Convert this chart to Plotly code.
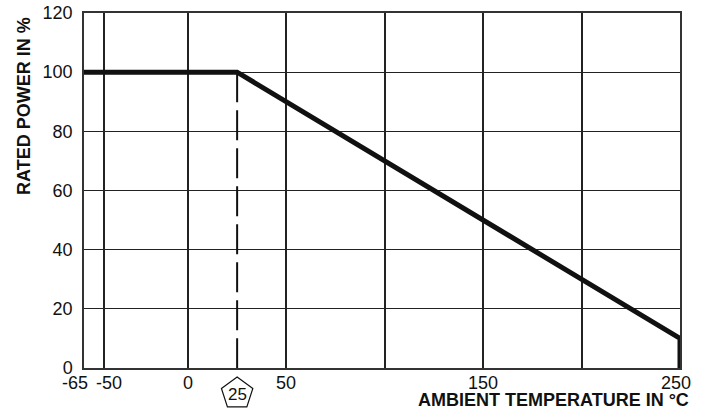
import numpy as np
import plotly.graph_objects as go

# ---- data ----
curve_temp = [-65, 25, 250, 250]
curve_power = [100, 100, 10, 0]
knee_temp = [25, 25]
knee_power = [100, 0]
x_grid_temps = [-65, -50, 0, 50, 100, 150, 200, 250]
x_label_temps = [-65, -50, 0, 50, 150, 250]
x_label_texts = ["-65", "-50", "0", "50", "150", "250"]
x_label_shift = [-9, 5, 0, 0, 0, -4]
y_ticks = [0, 20, 40, 60, 80, 100, 120]
knee_label = "25"

# Scale of the original drawing: left part of the temperature axis is compressed
SCALE_T = [-65, -50, 0, 250]
SCALE_P = [-52.8, -42.7, 0, 250]
X_RANGE = [float(np.interp(-65, SCALE_T, SCALE_P)), float(np.interp(250, SCALE_T, SCALE_P))]


def tx(v):
    return np.interp(v, SCALE_T, SCALE_P)


def paper_x(v):
    return float((tx(v) - X_RANGE[0]) / (X_RANGE[1] - X_RANGE[0]))


FONT = "Liberation Sans, Arial, Helvetica, sans-serif"
INK = "#111"
TICK_SIZE = 18

fig = go.Figure()

fig.add_trace(go.Scatter(
    x=tx(knee_temp), y=knee_power, mode="lines",
    line=dict(color=INK, width=2, dash="30px,8px"),
    hoverinfo="skip", showlegend=False))

fig.add_trace(go.Scatter(
    x=tx(curve_temp), y=curve_power, mode="lines",
    line=dict(color=INK, width=5),
    cliponaxis=False, showlegend=False))

annotations = []
for t, s, dx in zip(x_label_temps, x_label_texts, x_label_shift):
    annotations.append(dict(
        text=s, x=float(tx(t)), xref="x", y=0, yref="paper",
        xanchor="center", yanchor="top", yshift=-3, xshift=dx,
        showarrow=False, font=dict(family=FONT, size=TICK_SIZE, color=INK)))

# pentagon marker around the knee temperature
R, CY = 16.5, -25.5
angs = np.deg2rad([90, 18, -54, -126, 162])
pts = [(R * np.cos(a), CY + R * np.sin(a)) for a in angs]
path = "M " + " L ".join(f"{px:.2f},{py:.2f}" for px, py in pts) + " Z"
shapes = [dict(
    type="path", xref="paper", yref="paper", xsizemode="pixel", ysizemode="pixel",
    xanchor=paper_x(knee_temp[0]), yanchor=0, path=path,
    line=dict(color=INK, width=1.2), fillcolor="white", layer="above")]
annotations.append(dict(
    text=knee_label, x=float(tx(knee_temp[0])), xref="x", y=0, yref="paper",
    xanchor="center", yanchor="middle", yshift=CY - 1, showarrow=False,
    font=dict(family=FONT, size=17, color=INK)))

annotations.append(dict(
    text="<b>RATED POWER IN %</b>", textangle=-90,
    xref="paper", yref="paper", x=(24 - 84) / 596, y=(368 - 106) / 355,
    xanchor="center", yanchor="middle", showarrow=False,
    font=dict(family=FONT, size=18, color=INK)))
annotations.append(dict(
    text="<b>AMBIENT TEMPERATURE IN °C</b>",
    xref="paper", yref="paper", x=(691 - 84) / 596, y=(368 - 400) / 355,
    xanchor="right", yanchor="middle", showarrow=False,
    font=dict(family=FONT, size=18, color=INK)))

fig.update_layout(
    width=705, height=410,
    margin=dict(l=84, r=25, t=13, b=42, autoexpand=False),
    paper_bgcolor="white", plot_bgcolor="white",
    font=dict(family=FONT, size=TICK_SIZE, color=INK),
    xaxis=dict(
        range=X_RANGE,
        tickmode="array", tickvals=tx(x_grid_temps), showticklabels=False,
        showgrid=True, gridcolor="#222", gridwidth=2,
        showline=True, linecolor="#333", linewidth=1.5, mirror=True,
        zeroline=False, ticks="", automargin=False,
    ),
    yaxis=dict(
        range=[0, 120], tickmode="array", tickvals=y_ticks,
        showgrid=True, gridcolor="#222", gridwidth=1,
        showline=True, linecolor="#333", linewidth=1.5, mirror=True,
        zeroline=False, ticks="", tickfont=dict(size=TICK_SIZE),
        ticklabelstandoff=6, automargin=False,
    ),
    shapes=shapes,
    annotations=annotations,
)

fig.write_html(
    "out.html",
    config={"displayModeBar": False},
    post_script="document.body.style.margin='0';document.body.style.overflow='hidden';",
)
